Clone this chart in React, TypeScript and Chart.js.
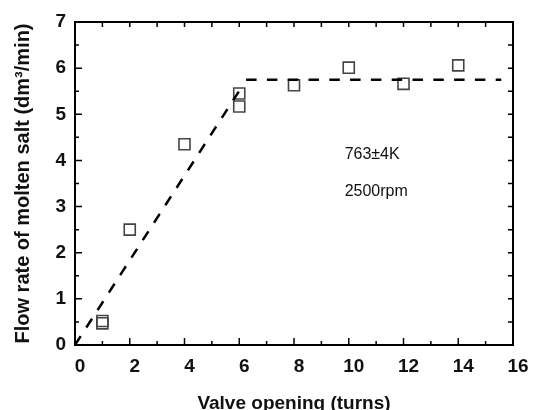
import React, { useEffect, useRef } from "react";
import { Chart, registerables } from "chart.js";

Chart.register(...registerables);

// ---- data ----
const valveTurns = [1, 1, 2, 4, 6, 6, 8, 10, 12, 14];
const flowRate = [0.52, 0.47, 2.5, 4.35, 5.45, 5.17, 5.63, 6.01, 5.66, 6.06];
const riseLineX = [0, 6.1];
const riseLineY = [0, 5.6];
const plateauX = [6.25, 15.57];
const plateauY = [5.75, 5.75];
const xRange = [0, 16];
const yRange = [0, 7];
const notes = ["763±4K", "2500rpm"];
const xTitle = "Valve opening (turns)";
const yTitle = "Flow rate of molten salt (dm³/min)";

const frame = {
  id: "frame",
  afterDatasetsDraw(chart: any) {
    const { ctx, chartArea: a, scales } = chart;
    const xs = scales.x;
    const ys = scales.y;
    ctx.save();
    ctx.strokeStyle = "#000";
    ctx.lineWidth = 2;
    ctx.strokeRect(a.left, a.top, a.right - a.left, a.bottom - a.top);
    ctx.lineWidth = 1.5;
    ctx.beginPath();
    for (let v = xRange[0]; v <= xRange[1]; v += 1) {
      const px = xs.getPixelForValue(v);
      const len = v % 2 === 0 ? 7 : 4;
      ctx.moveTo(px, a.bottom);
      ctx.lineTo(px, a.bottom - len);
      ctx.moveTo(px, a.top);
      ctx.lineTo(px, a.top + 5);
    }
    for (let v = yRange[0]; v <= yRange[1]; v += 0.5) {
      const py = ys.getPixelForValue(v);
      const len = v % 1 === 0 ? 7 : 4;
      ctx.moveTo(a.left, py);
      ctx.lineTo(a.left + len, py);
      ctx.moveTo(a.right, py);
      ctx.lineTo(a.right - 5, py);
    }
    ctx.stroke();
    ctx.fillStyle = "#111";
    ctx.font = "16px 'Liberation Sans', Arial, sans-serif";
    ctx.textAlign = "left";
    ctx.textBaseline = "middle";
    ctx.fillText(notes[0], xs.getPixelForValue(9.85), ys.getPixelForValue(4.13));
    ctx.fillText(notes[1], xs.getPixelForValue(9.85), ys.getPixelForValue(3.33));
    ctx.restore();
  },
};

export default function App() {
  const ref = useRef<HTMLCanvasElement>(null);
  useEffect(() => {
    if (!ref.current) return;
    const tickFont = { family: "'Liberation Sans', Arial, sans-serif", size: 19, weight: "bold" as const };
    const xTitleFont = { family: "'Liberation Sans', Arial, sans-serif", size: 19, weight: "bold" as const };
    const yTitleFont = { family: "'Liberation Sans', Arial, sans-serif", size: 20, weight: "bold" as const };
    const chart = new Chart(ref.current, {
      type: "scatter",
      data: {
        datasets: [
          {
            data: riseLineX.map((x, i) => ({ x, y: riseLineY[i] })),
            showLine: true,
            borderColor: "#000",
            borderWidth: 2.5,
            borderDash: [10.5, 10.3],
            pointRadius: 0,
            fill: false,
          },
          {
            data: plateauX.map((x, i) => ({ x, y: plateauY[i] })),
            showLine: true,
            borderColor: "#000",
            borderWidth: 2.5,
            borderDash: [10.5, 10.3],
            pointRadius: 0,
            fill: false,
          },
          {
            data: valveTurns.map((x, i) => ({ x, y: flowRate[i] })),
            pointStyle: "rect",
            pointRadius: 7.8,
            pointBorderWidth: 1.6,
            pointBorderColor: "#444",
            pointBackgroundColor: "rgba(0,0,0,0)",
            showLine: false,
          } as any,
        ],
      },
      options: {
        responsive: false,
        animation: false,
        devicePixelRatio: 1,
        layout: { padding: { top: 22, right: 26, left: 0, bottom: 0 } },
        plugins: { legend: { display: false }, tooltip: { enabled: false } },
        scales: {
          x: {
            type: "linear",
            min: xRange[0],
            max: xRange[1],
            grid: { display: false, drawTicks: false },
            border: { display: false },
            ticks: { stepSize: 2, font: tickFont, color: "#111", padding: 10, labelOffset: 5, maxRotation: 0 },
            title: { display: true, text: xTitle, font: xTitleFont, color: "#111", padding: { top: 0, bottom: -5 } },
            afterFit: (s: any) => { s.height = 65; },
          },
          y: {
            type: "linear",
            min: yRange[0],
            max: yRange[1],
            grid: { display: false, drawTicks: false },
            border: { display: false },
            ticks: { stepSize: 1, font: tickFont, color: "#111", padding: 9 },
            title: { display: true, text: yTitle, font: yTitleFont, color: "#111", padding: { top: 11, bottom: 0 } },
            afterFit: (s: any) => { s.width = 75; },
          },
        },
      },
      plugins: [frame],
    });
    return () => chart.destroy();
  }, []);
  return (
    <div style={{ position: "absolute", left: 0, top: 0, width: 539, height: 410, background: "#fff" }}>
      <canvas ref={ref} width={539} height={410} />
    </div>
  );
}
